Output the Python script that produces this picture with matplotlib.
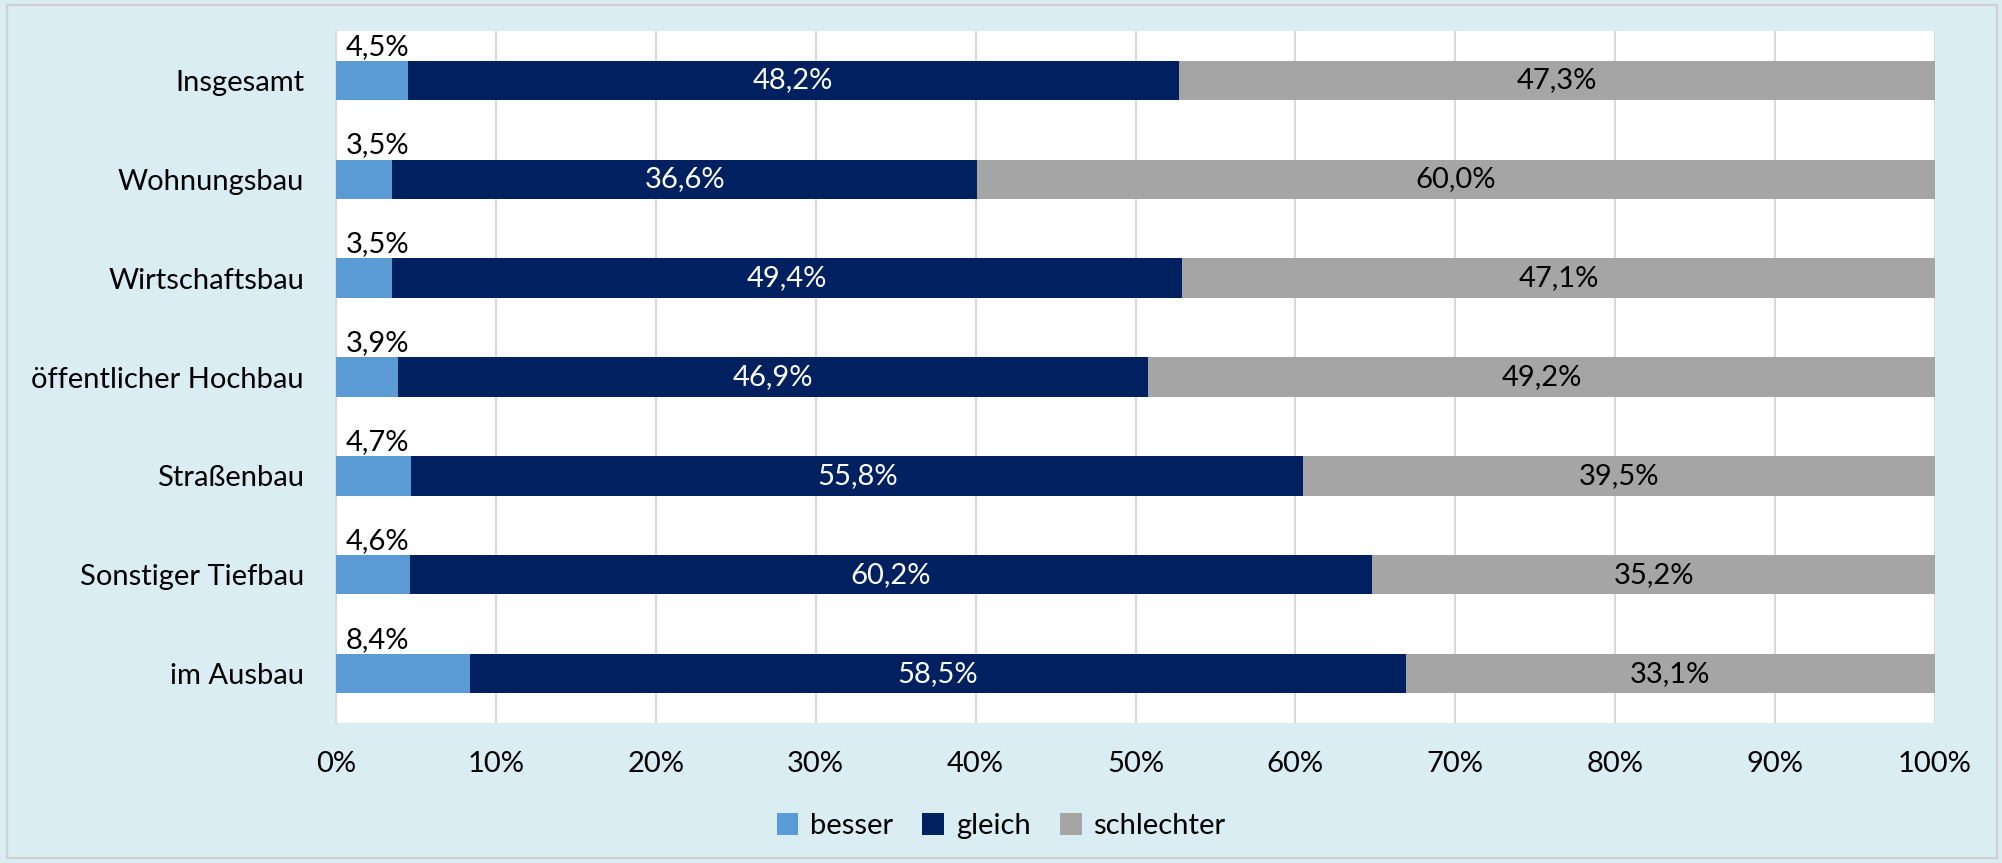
import matplotlib.pyplot as plt
from matplotlib.patches import Rectangle

# Daten
kategorien = ['Insgesamt', 'Wohnungsbau', 'Wirtschaftsbau', 'öffentlicher Hochbau',
              'Straßenbau', 'Sonstiger Tiefbau', 'im Ausbau']
besser = [4.5, 3.5, 3.5, 3.9, 4.7, 4.6, 8.4]
gleich = [48.2, 36.6, 49.4, 46.9, 55.8, 60.2, 58.5]
schlechter = [47.3, 60.0, 47.1, 49.2, 39.5, 35.2, 33.1]

farben = ['#5B9BD5', '#002060', '#A5A5A5']
hintergrund = '#DAEDF3'

plt.rcParams['font.family'] = ['Lato', 'DejaVu Sans']

fig = plt.figure(figsize=(20.02, 8.63), dpi=100)
fig.patch.set_facecolor(hintergrund)
fig.patches.append(Rectangle((7 / 2002, 5 / 863), 1990 / 2002, 853 / 863,
                             transform=fig.transFigure, fill=False,
                             edgecolor='#D0D0D0', linewidth=1.5))

ax = fig.add_axes([336 / 2002, 1 - 723 / 863, 1599 / 2002, 692 / 863])
ax.set_facecolor('white')

y = list(range(len(kategorien)))
h = 0.4
links2 = besser
links3 = [a + b for a, b in zip(besser, gleich)]

ax.barh(y, besser, height=h, color=farben[0], label='besser', zorder=3)
ax.barh(y, gleich, height=h, left=links2, color=farben[1], label='gleich', zorder=3)
ax.barh(y, schlechter, height=h, left=links3, color=farben[2], label='schlechter', zorder=3)

fs = 21
for i in y:
    ax.text(2.6, i - h / 2 - 0.01, f"{besser[i]:.1f}%".replace('.', ','),
            ha='center', va='bottom', fontsize=fs, color='black', zorder=4)
    ax.text(links2[i] + gleich[i] / 2, i, f"{gleich[i]:.1f}%".replace('.', ','),
            ha='center', va='center', fontsize=fs, color='white', zorder=4)
    mitte3 = (links3[i] + min(100, links3[i] + schlechter[i])) / 2
    ax.text(mitte3, i, f"{schlechter[i]:.1f}%".replace('.', ','),
            ha='center', va='center', fontsize=fs, color='black', zorder=4)

ax.set_xlim(0, 100)
ax.set_ylim(len(kategorien) - 0.5, -0.5)
ax.set_yticks(y)
ax.set_yticklabels(kategorien, fontsize=fs)
ax.set_xticks(range(0, 101, 10))
ax.set_xticklabels([f"{v}%" for v in range(0, 101, 10)], fontsize=fs)
ax.tick_params(axis='both', length=0)
ax.tick_params(axis='x', pad=20)
ax.tick_params(axis='y', pad=23)
ax.grid(axis='x', color='#D9D9D9', linewidth=1.5, zorder=0)
for s in ['top', 'right', 'bottom']:
    ax.spines[s].set_visible(False)
ax.spines['left'].set_color('#D9D9D9')
ax.spines['left'].set_linewidth(1.5)

fig.legend(loc='center', bbox_to_anchor=(0.5, 1 - 826 / 863), ncol=3, frameon=False,
           fontsize=fs, handlelength=0.75, handleheight=0.75, handletextpad=0.4,
           columnspacing=1.0)

fig.savefig('out.png', dpi=100, facecolor=fig.get_facecolor())
